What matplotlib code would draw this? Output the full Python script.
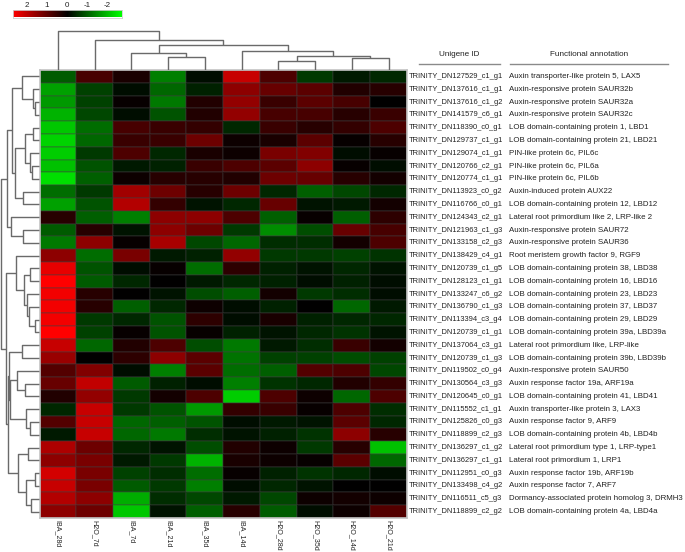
import numpy as np
import matplotlib
matplotlib.use("Agg")
import matplotlib.pyplot as plt
from matplotlib.colors import LinearSegmentedColormap, Normalize
from matplotlib.transforms import blended_transform_factory
from matplotlib.lines import Line2D

plt.rcParams['font.family'] = ['Liberation Sans', 'DejaVu Sans']

# ---------------- data ----------------
columns = ["IBA_28d", "H2O_7d", "IBA_7d", "IBA_21d", "IBA_35d",
           "IBA_14d", "H2O_28d", "H2O_35d", "H2O_14d", "H2O_21d"]

unigene_ids = [
    "TRINITY_DN127529_c1_g1", "TRINITY_DN137616_c1_g1", "TRINITY_DN137616_c1_g2",
    "TRINITY_DN141579_c6_g1", "TRINITY_DN118390_c0_g1", "TRINITY_DN129737_c1_g1",
    "TRINITY_DN129074_c1_g1", "TRINITY_DN120766_c2_g1", "TRINITY_DN120774_c1_g1",
    "TRINITY_DN113923_c0_g2", "TRINITY_DN116766_c0_g1", "TRINITY_DN124343_c2_g1",
    "TRINITY_DN121963_c1_g3", "TRINITY_DN133158_c2_g3", "TRINITY_DN138429_c4_g1",
    "TRINITY_DN120739_c1_g5", "TRINITY_DN128123_c1_g1", "TRINITY_DN133247_c6_g2",
    "TRINITY_DN136790_c1_g3", "TRINITY_DN113394_c3_g4", "TRINITY_DN120739_c1_g1",
    "TRINITY_DN137064_c3_g1", "TRINITY_DN120739_c1_g3", "TRINITY_DN119502_c0_g4",
    "TRINITY_DN130564_c3_g3", "TRINITY_DN120645_c0_g1", "TRINITY_DN115552_c1_g1",
    "TRINITY_DN125826_c0_g3", "TRINITY_DN118899_c2_g3", "TRINITY_DN136297_c1_g2",
    "TRINITY_DN136297_c1_g1", "TRINITY_DN112951_c0_g3", "TRINITY_DN133498_c4_g2",
    "TRINITY_DN116511_c5_g3", "TRINITY_DN118899_c2_g2",
]

annotations = [
    "Auxin transporter-like protein 5, LAX5",
    "Auxin-responsive protein SAUR32b",
    "Auxin-responsive protein SAUR32a",
    "Auxin-responsive protein SAUR32c",
    "LOB domain-containing protein 1, LBD1",
    "LOB domain-containing protein 21, LBD21",
    "PIN-like protein 6c, PIL6c",
    "PIN-like protein 6c, PIL6a",
    "PIN-like protein 6c, PIL6b",
    "Auxin-induced protein AUX22",
    "LOB domain-containing protein 12, LBD12",
    "Lateral root primordium like 2, LRP-like 2",
    "Auxin-responsive protein SAUR72",
    "Auxin-responsive protein SAUR36",
    "Root meristem growth factor 9, RGF9",
    "LOB domain-containing protein 38, LBD38",
    "LOB domain-containing protein 16, LBD16",
    "LOB domain-containing protein 23, LBD23",
    "LOB domain-containing protein 37, LBD37",
    "LOB domain-containing protein 29, LBD29",
    "LOB domain-containing protein 39a, LBD39a",
    "Lateral root primordium like, LRP-like",
    "LOB domain-containing protein 39b, LBD39b",
    "Auxin-responsive protein SAUR50",
    "Auxin response factor 19a, ARF19a",
    "LOB domain-containing protein 41, LBD41",
    "Auxin transporter-like protein 3, LAX3",
    "Auxin response factor 9, ARF9",
    "LOB domain-containing protein 4b, LBD4b",
    "Lateral root primordium type 1, LRP-type1",
    "Lateral root primordium 1, LRP1",
    "Auxin response factor 19b, ARF19b",
    "Auxin response factor 7, ARF7",
    "Dormancy-associated protein homolog 3, DRMH3",
    "LOB domain-containing protein 4a, LBD4a",
]

values = [
    [-0.95, 0.74, 0.27, -1.35, -0.14, 2.09, 0.81, -0.61, -0.27, -0.41],
    [-1.69, -0.68, -0.14, -1.08, -0.34, 1.49, 1.08, 0.95, 0.34, 0.41],
    [-1.62, -0.68, 0.07, -1.28, 0.34, 1.55, 0.61, 0.95, 0.74, 0.00],
    [-1.89, -0.74, -0.14, -0.88, 0.34, 1.55, 0.74, 0.74, 0.41, 0.61],
    [-2.09, -1.15, 0.74, 0.61, 0.54, -0.41, 0.61, 0.41, 0.54, 0.81],
    [-2.23, -1.08, 0.61, 0.61, 1.15, 0.14, 0.27, 0.95, 0.07, 0.41],
    [-2.16, -0.61, 0.81, -0.41, 0.27, 0.14, 1.28, 1.35, -0.14, 0.07],
    [-2.03, -0.88, -0.27, -0.34, 0.61, 0.81, 0.95, 1.49, 0.07, -0.14],
    [-2.36, -1.01, 0.14, 0.41, 0.41, 0.34, 1.15, 1.08, 0.41, 0.20],
    [-1.15, -0.61, 1.69, 1.15, 0.41, 1.15, -0.41, -1.01, -0.74, -0.41],
    [-1.69, -0.88, 1.89, 0.54, -0.20, -0.41, 1.08, -0.20, -0.27, 0.20],
    [0.41, -1.01, -1.35, 1.49, 1.49, 0.81, -1.01, 0.07, -1.01, 0.47],
    [-0.95, 0.41, -0.20, 1.49, 1.15, -0.61, -1.49, -0.81, 1.08, 0.74],
    [-1.28, 1.49, 0.07, 1.76, -0.74, -1.08, -0.47, -0.47, 0.20, 0.81],
    [1.49, -1.15, 1.28, -0.27, -0.34, 1.55, -0.61, -0.61, -0.68, -0.54],
    [2.43, -0.88, -0.14, 0.07, -1.15, 0.47, -0.34, -0.20, -0.41, -0.20],
    [2.70, -0.95, -0.41, 0.00, -0.27, -0.41, -0.34, -0.14, -0.34, -0.14],
    [2.57, 0.41, 0.00, -0.20, -0.81, -1.01, 0.20, -0.61, -0.47, -0.14],
    [2.57, 0.41, -1.01, -0.41, 0.14, -0.14, -0.34, 0.00, -1.08, -0.27],
    [2.57, -0.61, -0.41, -0.88, 0.47, -0.14, 0.27, -0.34, -0.41, -0.41],
    [2.70, -0.68, 0.07, -0.88, 0.07, -0.34, -0.20, -0.41, -0.54, -0.20],
    [2.09, -1.08, 0.34, 0.81, -0.81, -1.28, -0.27, -0.47, 0.61, 0.20],
    [1.62, 0.00, 0.47, 1.49, 0.95, -1.22, -0.68, -0.68, -0.81, -0.68],
    [0.88, 1.35, -0.14, -1.35, 0.95, -1.15, -1.01, 0.88, 0.81, -0.74],
    [1.08, 2.03, -0.95, -0.34, -0.14, -1.35, -0.54, -0.41, 0.34, 0.54],
    [0.34, 1.55, -0.61, 0.20, 0.81, -2.16, 0.81, 0.14, -1.08, 0.81],
    [-0.41, 2.09, -0.61, -0.88, -1.62, 0.54, 0.61, 0.07, 0.81, -0.47],
    [0.88, 2.09, -1.08, -1.01, -0.88, -0.14, -0.27, -0.20, 0.95, -0.41],
    [-0.27, 2.09, -1.08, -1.28, -0.47, -0.20, -0.34, -0.54, 1.49, 0.41],
    [1.82, 1.15, -0.41, -0.20, -0.81, 0.34, 0.14, -0.61, 0.41, -2.03],
    [1.49, 1.28, -0.27, -0.61, -1.89, 0.27, 0.14, 0.07, 0.95, -1.08],
    [2.23, 1.28, -0.68, -0.47, -1.15, 0.07, -0.34, -0.54, -0.41, -0.14],
    [2.09, 1.28, -0.95, -0.61, -1.35, -0.14, -0.41, -0.20, 0.00, 0.00],
    [1.89, 1.49, -1.82, -0.47, -0.74, -0.27, -0.74, 0.14, 0.20, 0.14],
    [1.49, 1.15, -2.09, -0.20, -1.01, 0.41, -0.95, -0.14, 0.14, 0.88],
]

# dendrogram merges: (child_a, child_b, height); leaves 0..n-1, merge i -> id n+i
row_merges = [
    (2, 3, 13), (1, 35, 18), (0, 36, 53), (4, 5, 18), (7, 8, 21),
    (6, 39, 28), (38, 40, 43), (9, 10, 50), (41, 42, 73), (37, 43, 83),
    (12, 13, 50), (11, 45, 86), (44, 46, 98), (15, 16, 28), (19, 20, 13),
    (18, 49, 30), (17, 50, 38), (48, 51, 45), (14, 52, 70), (21, 22, 53),
    (24, 25, 43), (23, 55, 68), (27, 28, 28), (26, 57, 40), (56, 58, 88),
    (54, 59, 90), (29, 30, 33), (31, 32, 13), (33, 34, 26), (62, 63, 40),
    (61, 64, 63), (60, 65, 93), (53, 66, 101), (47, 67, 115),
]
col_merges = [
    (3, 4, 13), (2, 10, 17), (6, 7, 9), (8, 9, 12), (12, 13, 14),
    (5, 14, 19), (11, 15, 25), (1, 16, 30), (0, 17, 39),
]

cbar_ticks = [2, 1, 0, -1, -2]
cbar_lim = 2.7

# ---------------- figure ----------------
W, H = 685, 552
fig = plt.figure(figsize=(W / 100, H / 100), dpi=100)


def fx(px):
    return px / W


def fy(py):
    return 1 - py / H


hm_l, hm_r, hm_t, hm_b = 39.5, 407.0, 70.0, 518.0
ax = fig.add_axes([fx(hm_l), fy(hm_b), fx(hm_r - hm_l), (hm_b - hm_t) / H])

cmap = LinearSegmentedColormap.from_list("gbr", ["#00ff00", "#000000", "#ff0000"])
norm = Normalize(vmin=-cbar_lim, vmax=cbar_lim)
data = np.array(values)
nrows, ncols = data.shape
ax.pcolormesh(np.arange(ncols + 1), np.arange(nrows + 1), data, cmap=cmap, norm=norm,
              edgecolors=(0.25, 0.25, 0.25, 0.25), linewidth=0.3)
ax.set_xlim(0, ncols)
ax.set_ylim(nrows, 0)
ax.set_xticks([])
ax.set_yticks([])
for s in ax.spines.values():
    s.set_color("#c4c4c4")
    s.set_linewidth(1.2)

# column labels
trans_c = blended_transform_factory(ax.transData, fig.transFigure)
for j, c in enumerate(columns):
    ax.text(j + 0.5, fy(520.5), c, transform=trans_c, rotation=270, ha="center", va="top",
            fontsize=5.1, color="#222222")

# row labels
trans_r = blended_transform_factory(fig.transFigure, ax.transData)
for i, (uid, ann) in enumerate(zip(unigene_ids, annotations)):
    ax.text(fx(409), i + 0.5, uid, transform=trans_r, ha="left", va="center",
            fontsize=5.4, color="#222222")
    ax.text(fx(509), i + 0.5, ann, transform=trans_r, ha="left", va="center",
            fontsize=5.65, color="#222222")

# headers
fig.text(fx(459), fy(55), "Unigene ID", ha="center", va="center", fontsize=5.9, color="#222222")
fig.text(fx(589), fy(55), "Functional annotation", ha="center", va="center", fontsize=5.9,
         color="#222222")
fig.add_artist(Line2D([fx(419), fx(500)], [fy(64), fy(64)], color="#8a8a8a", lw=1.0))
fig.add_artist(Line2D([fx(510), fx(668)], [fy(64), fy(64)], color="#8a8a8a", lw=1.0))


def draw_dendro(axd, merges, n, orient):
    pos = {i: i + 0.5 for i in range(n)}
    hgt = {i: 0.0 for i in range(n)}
    for k, (a, b, h) in enumerate(merges):
        pa, pb = pos[a], pos[b]
        ha_, hb_ = hgt[a], hgt[b]
        if orient == "top":
            xs, ys = [pa, pa, pb, pb], [ha_, h, h, hb_]
        else:
            xs, ys = [ha_, h, h, hb_], [pa, pa, pb, pb]
        axd.plot(xs, ys, color="#6a6a6a", lw=1.0, solid_capstyle="butt")
        pos[n + k] = (pa + pb) / 2
        hgt[n + k] = h


# left dendrogram
axl = fig.add_axes([0, fy(hm_b), fx(hm_l), (hm_b - hm_t) / H])
draw_dendro(axl, row_merges, nrows, "left")
axl.set_ylim(nrows, 0)
axl.set_xlim(118.5, 0)
axl.axis("off")

# top dendrogram
top_t = 28.0
axt = fig.add_axes([fx(hm_l), fy(hm_t), fx(hm_r - hm_l), (hm_t - top_t) / H])
draw_dendro(axt, col_merges, ncols, "top")
axt.set_xlim(0, ncols)
axt.set_ylim(0, hm_t - top_t)
axt.axis("off")

# color key
axc = fig.add_axes([fx(12.7), fy(17.5), fx(121.7 - 12.7), 7.3 / H])
grad = np.linspace(cbar_lim, -cbar_lim, 256)[None, :]
axc.imshow(grad, aspect="auto", cmap=cmap, norm=norm,
           extent=[cbar_lim, -cbar_lim, 0, 1])
axc.set_xlim(cbar_lim, -cbar_lim)
axc.set_yticks([])
axc.set_xticks(cbar_ticks)
axc.set_xticklabels([str(t) for t in cbar_ticks], fontsize=5.8, color="#222222")
axc.xaxis.tick_top()
axc.tick_params(axis="x", length=0, pad=0.8)
for s in axc.spines.values():
    s.set_color("#d0d0d0")
    s.set_linewidth(0.6)

fig.savefig("out.png", dpi=100)
